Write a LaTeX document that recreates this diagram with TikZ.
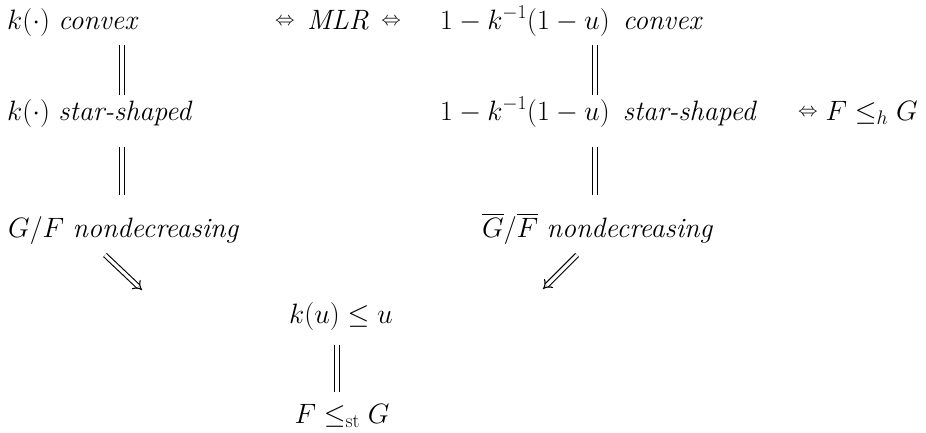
\RequirePackage{fix-cm}
\documentclass[tikz,border=0pt]{standalone}
\usepackage{amsmath}
\usepackage{fontspec}
\usetikzlibrary{arrows.meta}
\newcommand{\smiff}{\mathrel{\vcenter{\hbox{$\scriptstyle\Leftrightarrow$}}}}
\tikzset{
  lbl/.style={inner sep=0pt, anchor=base west, font=\fontsize{28}{34}\selectfont},
  clbl/.style={lbl, anchor=base},
  eqline/.style={double, double distance=3.2pt, line width=1.1pt},
  impl/.style={double, double distance=3.2pt, line width=1.1pt, -{Implies}}
}
\begin{document}
\begin{tikzpicture}[x=1pt,y=-1pt]
\useasboundingbox (0,0) rectangle (926,432);
% left column
\node[lbl] (kc) at (7,29) {$k(\cdot)$ \textit{convex}};
\node[lbl] (ks) at (7,120) {$k(\cdot)$ \textit{star-shaped}};
\node[lbl] (gf) at (8,237) {$G/F$ \textit{nondecreasing}};
% middle top
\node[clbl] (mlr) at (338,29) {$\smiff\,\mathit{MLR}\,\smiff$};
% right column
\node[lbl] (rc) at (440,29) {$1 - k^{-1}(1 - u)$\ \,\textit{convex}};
\node[lbl] (rs) at (440,120) {$1 - k^{-1}(1 - u)$\ \,\textit{star-shaped}};
\node[lbl] (rh) at (798,120) {$\smiff F \le_h G$};
\node[lbl] (gb) at (482,237) {$\overline{G}/\overline{F}$ \textit{nondecreasing}};
% bottom
\node[clbl] (ku) at (341,323) {$k(u) \le u$};
\node[clbl] (fst) at (342,423) {$F \le_{\mathrm{st}} G$};
% x positions of the vertical connectors
\coordinate (xl) at (122,0);
\coordinate (xr) at (595,0);
\coordinate (xb) at (337,0);
% vertical equivalence lines
\draw[eqline] ([yshift=-16pt]kc.base -| xl) -- ([yshift=25pt]ks.base -| xl);
\draw[eqline] ([yshift=-27pt]ks.base -| xl) -- ([yshift=42pt]gf.base -| xl);
\draw[eqline] ([yshift=-16pt]rc.base -| xr) -- ([yshift=25pt]rs.base -| xr);
\draw[eqline] ([yshift=-27pt]rs.base -| xr) -- ([yshift=42pt]gb.base -| xr);
\draw[eqline] ([yshift=-22pt]ku.base -| xb) -- ([yshift=31pt]fst.base -| xb);
% diagonal implications
\draw[impl] ([xshift=97pt,yshift=-18pt]gf.base west) -- ([xshift=-199pt,yshift=33pt]ku.base);
\draw[impl] ([xshift=95pt,yshift=-18pt]gb.base west) -- ([xshift=202pt,yshift=34pt]ku.base);
\end{tikzpicture}
\end{document}
